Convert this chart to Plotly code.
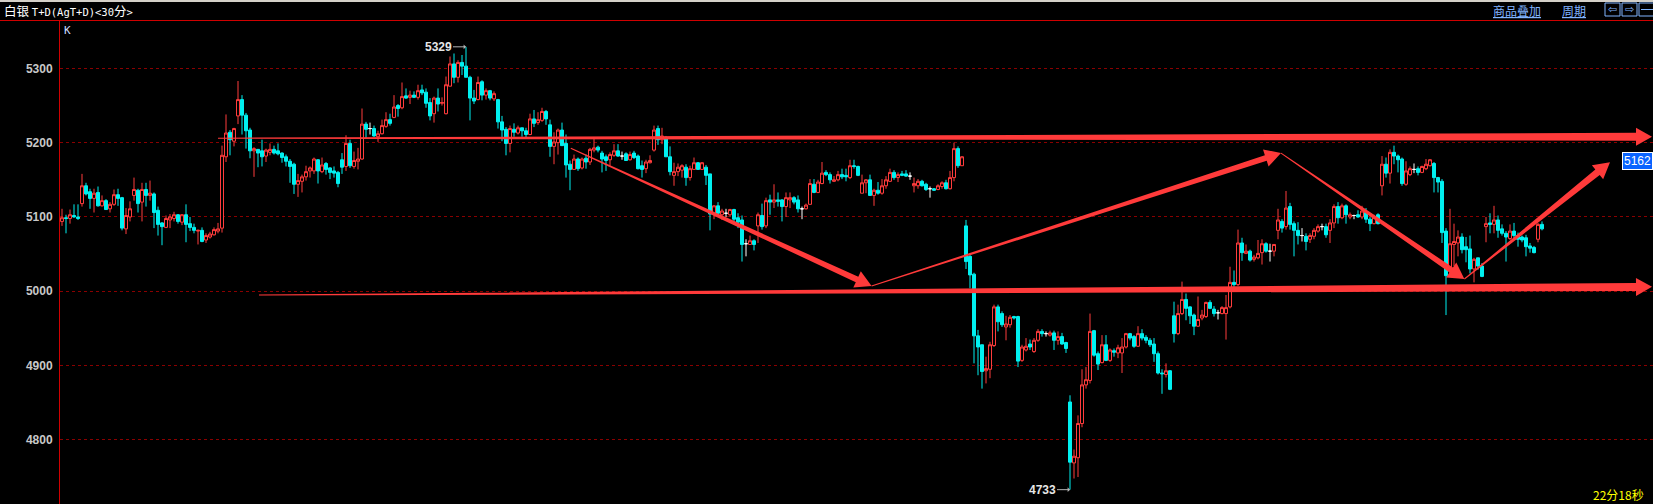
import math
import plotly.graph_objects as go

# ---------------- data (30-minute candles, 白银 T+D) ----------------
opens = [
    5094,5099,5098,5102,5100,5118,5142,5134,5125,5133,
    5115,5122,5111,5117,5130,5126,5084,5100,5129,5136,
    5120,5137,5129,5131,5109,5092,5086,5096,5098,5103,
    5093,5103,5091,5086,5081,5082,5069,5073,5076,5081,
    5085,5181,5214,5202,5236,5258,5237,5217,5189,5191,
    5189,5182,5187,5191,5189,5186,5181,5175,5171,5144,
    5148,5154,5162,5162,5177,5161,5172,5166,5162,5160,
    5177,5168,5199,5168,5175,5178,5225,5219,5219,5208,
    5212,5222,5231,5234,5250,5247,5263,5261,5264,5261,
    5271,5268,5254,5239,5260,5253,5239,5276,5306,5288,
    5308,5303,5288,5260,5258,5282,5264,5270,5259,5258,
    5228,5218,5199,5218,5213,5220,5216,5211,5232,5227,
    5230,5242,5224,5195,5200,5217,5199,5171,5164,5178,
    5166,5179,5174,5190,5194,5186,5181,5177,5183,5189,
    5182,5185,5177,5186,5182,5169,5165,5173,5190,5219,
    5204,5205,5181,5156,5161,5163,5167,5153,5164,5173,
    5164,5167,5158,5104,5115,5103,5105,5103,5110,5099,
    5096,5064,5063,5068,5088,5102,5088,5123,5120,5123,
    5123,5114,5123,5126,5123,5111,5111,5117,5144,5133,
    5145,5160,5157,5148,5150,5157,5156,5153,5169,5168,
    5132,5146,5150,5129,5136,5132,5142,5148,5160,5153,
    5158,5158,5155,5142,5142,5148,5144,5138,5138,5137,
    5141,5146,5138,5153,5192,5169,5088,5047,5023,4940,
    4928,4893,4895,4927,4979,4970,4952,4955,4966,4966,
    4907,4921,4929,4919,4934,4946,4943,4941,4944,4934,
    4939,4931,4851,4769,4776,4822,4874,4880,4947,4916,
    4904,4928,4907,4920,4917,4917,4925,4943,4939,4926,
    4943,4938,4934,4929,4916,4890,4888,4893,4967,4943,
    4970,4989,4979,4968,4953,4964,4966,4985,4976,4971,
    4970,4970,4979,5012,5009,5065,5051,5054,5043,5045,
    5052,5064,5054,5054,5082,5094,5087,5114,5091,5082,
    5075,5074,5070,5074,5081,5087,5087,5082,5092,5114,
    5099,5115,5100,5102,5103,5100,5106,5097,5091,5103,
    5142,5171,5159,5187,5182,5178,5144,5157,5164,5165,
    5160,5165,5169,5172,5153,5148,5081,5028,5063,5065,
    5073,5060,5057,5030,5045,5034,5087,5092,5090,5096,
    5084,5078,5071,5081,5075,5073,5072,5061,5059,5070,
    5090,
]
highs = [
    5111,5103,5110,5117,5117,5158,5146,5138,5138,5141,
    5129,5124,5120,5137,5138,5127,5112,5121,5153,5138,
    5146,5146,5149,5133,5114,5093,5102,5104,5107,5104,
    5104,5117,5100,5091,5083,5086,5078,5080,5086,5092,
    5196,5238,5217,5220,5283,5264,5240,5220,5194,5191,
    5204,5192,5199,5196,5199,5187,5184,5178,5173,5158,
    5157,5169,5168,5180,5178,5180,5174,5167,5168,5162,
    5186,5210,5204,5188,5193,5246,5228,5227,5223,5216,
    5231,5241,5239,5264,5252,5281,5273,5270,5269,5278,
    5278,5273,5260,5262,5273,5261,5289,5316,5320,5311,
    5318,5329,5290,5271,5289,5284,5273,5271,5269,5259,
    5236,5221,5223,5226,5223,5220,5220,5239,5244,5241,
    5247,5244,5231,5214,5219,5227,5211,5176,5184,5180,
    5180,5184,5193,5207,5196,5189,5184,5187,5198,5198,
    5188,5187,5188,5189,5184,5176,5177,5183,5223,5223,
    5220,5209,5195,5173,5172,5171,5171,5169,5180,5174,
    5174,5170,5158,5116,5120,5111,5111,5111,5111,5105,
    5102,5070,5075,5070,5106,5118,5126,5130,5144,5133,
    5124,5133,5133,5128,5129,5114,5118,5151,5151,5150,
    5174,5163,5160,5155,5162,5165,5165,5177,5177,5169,
    5157,5151,5157,5138,5147,5151,5155,5165,5163,5160,
    5162,5163,5160,5153,5151,5150,5146,5141,5139,5144,
    5148,5150,5162,5200,5195,5182,5096,5051,5025,4948,
    4928,4912,4932,4982,4982,4973,4967,4968,4967,4967,
    4928,4937,4935,4937,4949,4949,4946,4947,4947,4946,
    4944,4932,4860,4787,4833,4895,4898,4970,4948,4919,
    4941,4941,4923,4923,4928,4937,4944,4944,4941,4953,
    4949,4941,4937,4937,4919,4895,4903,4894,4986,4982,
    5013,4997,4980,4970,4993,4975,4986,4988,4980,4975,
    4980,4995,5033,5028,5083,5072,5063,5056,5049,5069,
    5070,5066,5064,5063,5111,5097,5135,5119,5094,5093,
    5085,5078,5078,5085,5090,5091,5091,5097,5117,5120,
    5118,5117,5106,5103,5109,5115,5112,5100,5103,5105,
    5182,5180,5191,5196,5184,5180,5175,5168,5172,5168,
    5169,5178,5178,5174,5154,5151,5085,5111,5091,5082,
    5078,5073,5075,5045,5045,5038,5100,5105,5115,5102,
    5090,5081,5090,5092,5079,5075,5076,5065,5061,5092,
    5094,
]
lows = [
    5088,5078,5091,5099,5096,5114,5129,5111,5106,5114,
    5114,5110,5106,5115,5115,5082,5077,5094,5122,5106,
    5094,5114,5122,5085,5075,5062,5085,5085,5094,5091,
    5089,5066,5081,5078,5063,5066,5065,5071,5075,5078,
    5079,5174,5183,5195,5225,5211,5192,5179,5154,5167,
    5168,5174,5183,5184,5183,5173,5168,5146,5131,5127,
    5133,5149,5153,5158,5145,5159,5157,5151,5153,5140,
    5158,5162,5166,5165,5164,5177,5206,5211,5208,5201,
    5211,5220,5223,5233,5235,5245,5259,5252,5260,5258,
    5264,5247,5230,5227,5242,5250,5238,5276,5280,5281,
    5291,5288,5230,5252,5257,5257,5258,5257,5256,5219,
    5202,5183,5187,5208,5211,5208,5207,5210,5221,5224,
    5228,5224,5181,5171,5184,5196,5153,5136,5164,5162,
    5164,5165,5170,5187,5187,5160,5162,5169,5181,5181,
    5177,5176,5176,5178,5164,5153,5159,5172,5188,5197,
    5198,5181,5156,5142,5155,5153,5142,5149,5164,5164,
    5164,5143,5082,5097,5100,5096,5100,5100,5094,5085,
    5040,5047,5063,5055,5065,5083,5085,5103,5112,5114,
    5094,5100,5112,5117,5106,5097,5110,5117,5132,5132,
    5144,5155,5145,5147,5148,5151,5148,5151,5165,5155,
    5132,5132,5129,5115,5130,5130,5138,5147,5150,5147,
    5155,5154,5150,5133,5138,5141,5135,5126,5135,5136,
    5138,5137,5137,5148,5166,5169,5030,5004,4903,4887,
    4869,4876,4883,4925,4946,4952,4934,4951,4962,4898,
    4905,4919,4921,4917,4932,4939,4939,4939,4921,4928,
    4928,4917,4733,4748,4750,4817,4869,4876,4912,4894,
    4903,4906,4905,4912,4910,4890,4923,4934,4924,4925,
    4934,4930,4925,4905,4888,4862,4884,4867,4931,4941,
    4968,4961,4956,4941,4952,4961,4964,4976,4966,4962,
    4969,4935,4977,5006,5007,5041,5050,5040,5040,5043,
    5036,5052,5040,5047,5070,5079,5083,5083,5047,5063,
    5067,5055,5065,5070,5079,5082,5072,5065,5085,5091,
    5097,5091,5097,5097,5099,5097,5092,5081,5090,5090,
    5129,5153,5145,5171,5160,5142,5142,5155,5159,5156,
    5159,5163,5168,5133,5133,5065,4968,5024,5034,5047,
    5051,5039,5024,5012,5029,5019,5066,5078,5078,5072,
    5075,5040,5069,5070,5060,5066,5047,5052,5051,5066,
    5082,
]
closes = [
    5099,5098,5103,5100,5098,5142,5131,5125,5132,5115,
    5122,5110,5117,5130,5125,5085,5102,5111,5137,5118,
    5137,5129,5132,5106,5090,5087,5098,5100,5103,5094,
    5103,5090,5086,5082,5082,5067,5075,5077,5083,5084,
    5183,5213,5204,5219,5258,5237,5216,5189,5192,5186,
    5181,5190,5191,5186,5185,5180,5175,5168,5144,5149,
    5154,5161,5166,5178,5162,5170,5164,5160,5159,5145,
    5167,5199,5169,5176,5178,5225,5218,5219,5209,5212,
    5223,5231,5226,5248,5246,5262,5260,5264,5261,5270,
    5267,5253,5236,5260,5252,5254,5278,5306,5288,5308,
    5303,5288,5260,5256,5281,5264,5270,5260,5266,5228,
    5217,5199,5219,5214,5220,5216,5211,5232,5226,5231,
    5242,5232,5195,5201,5217,5196,5170,5164,5178,5165,
    5178,5174,5191,5193,5190,5178,5176,5184,5189,5182,
    5182,5176,5184,5180,5165,5164,5174,5176,5217,5204,
    5209,5181,5161,5161,5167,5169,5153,5165,5173,5164,
    5173,5156,5104,5115,5105,5108,5105,5110,5097,5093,
    5063,5064,5068,5063,5103,5087,5122,5120,5123,5121,
    5114,5126,5126,5120,5111,5111,5116,5145,5133,5147,
    5159,5157,5150,5150,5157,5154,5154,5169,5168,5156,
    5146,5150,5129,5136,5132,5142,5150,5160,5153,5157,
    5156,5155,5155,5145,5148,5142,5137,5138,5136,5142,
    5146,5138,5153,5192,5169,5181,5040,5022,4940,4925,
    4892,4896,4928,4979,4959,4955,4956,4965,4964,4906,
    4925,4926,4925,4934,4946,4943,4943,4944,4934,4939,
    4929,4923,4770,4778,4822,4874,4881,4946,4914,4902,
    4928,4907,4921,4918,4924,4925,4943,4937,4926,4943,
    4937,4934,4928,4916,4890,4889,4893,4868,4943,4970,
    4989,4977,4967,4953,4962,4968,4985,4977,4970,4971,
    4978,4978,5012,5009,5065,5052,5054,5042,5046,5051,
    5064,5054,5054,5063,5096,5085,5112,5090,5082,5075,
    5075,5067,5075,5082,5087,5087,5076,5092,5114,5099,
    5115,5103,5103,5102,5100,5108,5097,5091,5100,5091,
    5171,5159,5187,5182,5177,5145,5162,5165,5164,5160,
    5168,5171,5177,5153,5147,5079,5021,5064,5067,5073,
    5056,5056,5030,5043,5034,5020,5091,5090,5096,5082,
    5078,5073,5081,5075,5070,5069,5060,5058,5052,5090,
    5084,
]

y_ticks = [4800, 4900, 5000, 5100, 5200, 5300]
last_price_label = "5162"
timer_text = "22分18秒"

# hand-drawn trend arrows (candle index, price) start -> tip
arrow_x0 = [39.0, 49.25, 127.2, 202.4, 304.75, 350.6]
arrow_p0 = [5206, 4995, 5192.5, 5007, 5186, 5016.5]
arrow_x1 = [397.5, 397.5, 202.4, 304.75, 350.6, 387.0]
arrow_p1 = [5208, 5006, 5007, 5186, 5016.5, 5173.6]
arrow_w0 = [1.0, 1.0, 1.0, 1.0, 1.0, 1.0]
arrow_w1 = [8.0, 8.0, 6.0, 6.0, 6.0, 7.0]

# ---------------- layout constants ----------------
W, H = 1653, 504
ML, MT = 60, 20
PW, PH = W - ML, H - MT
XR = [-0.5, -0.5 + PW / 4.0]
YR = [4713.7, 5365.1]
SX = PW / (XR[1] - XR[0])
SY = PH / (YR[1] - YR[0])

RED = "#ff3c3c"
CYAN = "#00f0f0"
ARROW_RED = "#ff3a3a"
BLUE_TXT = "#80b4ff"

n = len(opens)
xs = list(range(n))
main_idx = [i for i in xs if opens[i] != closes[i]]
doji_idx = [i for i in xs if opens[i] == closes[i]]

fig = go.Figure()
fig.add_trace(go.Candlestick(
    x=main_idx,
    open=[opens[i] for i in main_idx], high=[highs[i] for i in main_idx],
    low=[lows[i] for i in main_idx], close=[closes[i] for i in main_idx],
    increasing=dict(line=dict(color=RED, width=1), fillcolor="#000000"),
    decreasing=dict(line=dict(color=CYAN, width=1), fillcolor=CYAN),
    hoverinfo="skip", showlegend=False,
))
fig.add_trace(go.Candlestick(
    x=doji_idx,
    open=[opens[i] for i in doji_idx], high=[highs[i] for i in doji_idx],
    low=[lows[i] for i in doji_idx], close=[closes[i] for i in doji_idx],
    increasing=dict(line=dict(color="#ffffff", width=1), fillcolor="#ffffff"),
    decreasing=dict(line=dict(color="#ffffff", width=1), fillcolor="#ffffff"),
    hoverinfo="skip", showlegend=False,
))


def to_px(x, p):
    return ((x - XR[0]) * SX, (p - YR[0]) * SY)


def to_data(px, py):
    return (px / SX + XR[0], py / SY + YR[0])


def taper_arrow(x0, p0, x1, p1, w0, w1, hl=16.0, hw=18.0):
    ax, ay = to_px(x0, p0)
    bx, by = to_px(x1, p1)
    dx, dy = bx - ax, by - ay
    L = math.hypot(dx, dy)
    ux, uy = dx / L, dy / L
    nx, ny = -uy, ux
    cx, cy = bx - ux * hl, by - uy * hl
    pts = [
        (ax + nx * w0 / 2, ay + ny * w0 / 2),
        (cx + nx * w1 / 2, cy + ny * w1 / 2),
        (cx + nx * hw / 2, cy + ny * hw / 2),
        (bx, by),
        (cx - nx * hw / 2, cy - ny * hw / 2),
        (cx - nx * w1 / 2, cy - ny * w1 / 2),
        (ax - nx * w0 / 2, ay - ny * w0 / 2),
    ]
    d = []
    for k, (px, py) in enumerate(pts):
        X, Y = to_data(px, py)
        d.append(("M" if k == 0 else "L") + f"{X:.4f},{Y:.4f}")
    return " ".join(d) + " Z"


shapes = []
for k in range(len(arrow_x0)):
    shapes.append(dict(
        type="path", xref="x", yref="y",
        path=taper_arrow(arrow_x0[k], arrow_p0[k], arrow_x1[k], arrow_p1[k],
                         arrow_w0[k], arrow_w1[k]),
        fillcolor=ARROW_RED, line=dict(width=0), layer="above",
    ))


def pxx(px):
    return (px - ML) / PW


def pxy(py):
    return (H - py) / PH


# top grey strip and red frame line
shapes.append(dict(type="rect", xref="paper", yref="paper",
                   x0=pxx(0), x1=pxx(W), y0=pxy(2), y1=pxy(0),
                   fillcolor="#d4d0c8", line=dict(width=0), layer="above"))
shapes.append(dict(type="line", xref="paper", yref="paper",
                   x0=pxx(0), x1=pxx(W), y0=pxy(20.5), y1=pxy(20.5),
                   line=dict(color="#d00000", width=1)))
# icon boxes top-right
for bx0 in [1605, 1622, 1639]:
    shapes.append(dict(type="rect", xref="paper", yref="paper",
                       x0=pxx(bx0), x1=pxx(bx0 + 15), y0=pxy(16), y1=pxy(3),
                       line=dict(color=BLUE_TXT, width=1), fillcolor="rgba(0,0,0,0)"))
shapes.append(dict(type="line", xref="paper", yref="paper",
                   x0=pxx(1641), x1=pxx(1653), y0=pxy(9.5), y1=pxy(9.5),
                   line=dict(color=BLUE_TXT, width=1)))

annotations = []
mono = "DejaVu Sans Mono"
annotations.append(dict(
    xref="paper", yref="paper", x=pxx(2), y=pxy(11), xanchor="left", yanchor="middle",
    text='白银 <span style="font-family:DejaVu Sans Mono;font-size:10.5px">T+D(AgT+D)&lt;30</span>分'
         '<span style="font-family:DejaVu Sans Mono;font-size:10.5px">&gt;</span>',
    showarrow=False, font=dict(family="Noto Sans CJK SC", size=12.5, color="#ffffff")))
annotations.append(dict(
    xref="paper", yref="paper", x=pxx(62), y=pxy(30.5), xanchor="left", yanchor="middle",
    text="K", showarrow=False, font=dict(family=mono, size=11, color="#c8dcff")))
annotations.append(dict(
    xref="paper", yref="paper", x=pxx(1491), y=pxy(11), xanchor="left", yanchor="middle",
    text="<u>商品叠加</u>", showarrow=False,
    font=dict(family="Noto Sans CJK SC", size=12, color=BLUE_TXT)))
annotations.append(dict(
    xref="paper", yref="paper", x=pxx(1560), y=pxy(11), xanchor="left", yanchor="middle",
    text="<u>周期</u>", showarrow=False,
    font=dict(family="Noto Sans CJK SC", size=12, color=BLUE_TXT)))
for cx, sym in [(1612.5, "⇦"), (1629.5, "⇨")]:
    annotations.append(dict(
        xref="paper", yref="paper", x=pxx(cx), y=pxy(9.5), xanchor="center", yanchor="middle",
        text=sym, showarrow=False, font=dict(family="DejaVu Sans", size=11, color=BLUE_TXT)))

imax = max(range(n), key=lambda i: highs[i])
imin = min(range(n), key=lambda i: lows[i])
for idx, val in [(imax, highs[imax]), (imin, lows[imin])]:
    annotations.append(dict(
        x=idx, y=val, xref="x", yref="y", text=str(val), showarrow=True,
        ax=-28, ay=0, arrowhead=1, arrowsize=0.8, arrowwidth=1, arrowcolor="#b4b4b4",
        font=dict(family="Liberation Sans", size=12, color="#e6e6e6", weight="bold")))

annotations.append(dict(
    xref="paper", yref="y", x=1.0, y=5175, xanchor="right", yanchor="middle",
    text=last_price_label, showarrow=False, bgcolor="#0a64ff", bordercolor="#ffffff",
    borderwidth=1, borderpad=1,
    font=dict(family="Liberation Sans", size=12, color="#ffffff")))
annotations.append(dict(
    xref="paper", yref="paper", x=pxx(1646), y=pxy(494), xanchor="right", yanchor="middle",
    text=timer_text, showarrow=False,
    font=dict(family="Noto Sans CJK SC", size=12, color="#ffff00")))

fig.update_layout(
    width=W, height=H,
    margin=dict(l=ML, r=0, t=MT, b=0, pad=0),
    paper_bgcolor="#000000", plot_bgcolor="#000000",
    boxgap=0.25, boxgroupgap=0,
    showlegend=False,
    shapes=shapes, annotations=annotations,
    xaxis=dict(range=XR, visible=False, rangeslider=dict(visible=False), fixedrange=True),
    yaxis=dict(range=YR, side="left", tickvals=y_ticks, ticktext=[str(v) for v in y_ticks],
               showgrid=True, gridcolor="#8a0000", griddash="dot", gridwidth=1,
               zeroline=False, showline=True, linecolor="#d00000", linewidth=1,
               ticks="", ticklabelstandoff=4,
               tickfont=dict(family="Liberation Sans", size=12, color="#c8c8c8", weight="bold"),
               fixedrange=True),
)

fig.write_html("out.html",
               config={"displayModeBar": False},
               post_script="document.body.style.margin='0';document.body.style.overflow='hidden';"
                           "document.body.style.background='#000';")
